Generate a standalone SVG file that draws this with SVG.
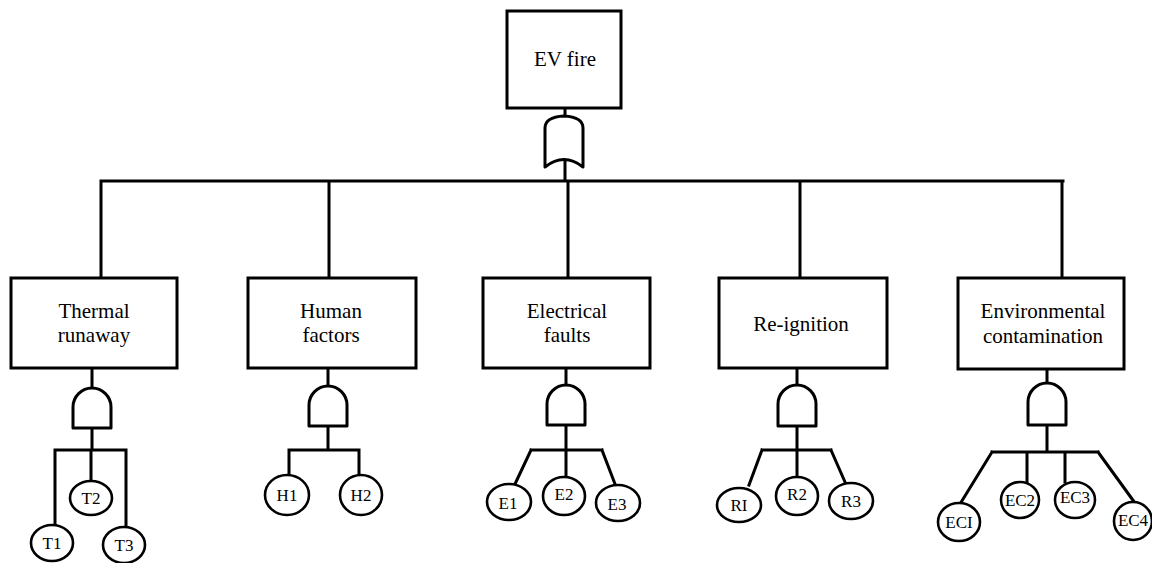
<svg xmlns="http://www.w3.org/2000/svg" width="1152" height="563" viewBox="0 0 1152 563">
<style>
.box{fill:#fff;stroke:#000;stroke-width:3}
.gate{fill:#fff;stroke:#000;stroke-width:3;stroke-linejoin:round}
.ev{fill:#fff;stroke:#000;stroke-width:2.6}
.ln{fill:none;stroke:#000;stroke-width:3;stroke-linecap:square}
.t{font-size:21px;fill:#000;text-anchor:middle}
.s{font-size:17px;fill:#000;text-anchor:middle}
</style>
<rect width="1152" height="563" fill="#fff"/>
<g id="connectors">
<path class="ln" d="M565,108V117M565,160V181M101,181H1063M101,181V278M329,181V278M568,181V278M800,181V278M1062,181V278"/>
<path class="ln" d="M92,368V388M92,428V450M55,450H126M55,450V525M91,450V482M126,450V527"/>
<path class="ln" d="M328,368V386M328,426V450M289,450H359M289,450V475M359,450V475"/>
<path class="ln" d="M566,368V385M566,425V450M531,450H602M531,450L515,484M602,450L615,484M566,450V478"/>
<path class="ln" d="M797,368V385M797,426V450M762,450H831M762,450L749,485M831,450L845,482M797,450V478"/>
<path class="ln" d="M1047,369V383M1047,425V452M992,452H1098M992,452L960,504M1098,452L1135,503M1027,452V482M1065,452V482"/>
</g>
<g font-family="'Liberation Serif', 'DejaVu Serif', serif">
<g id="ev-fire"><rect class="box" x="507" y="11" width="114" height="97"/><text class="t" x="565" y="66">EV fire</text></g>
<g id="or-gate"><path class="gate" d="M545,167L545,128Q545,117 564,116Q583,117 583,128L583,167Q564,152 545,167Z"/></g>
<g id="thermal"><rect class="box" x="11" y="278" width="166" height="90"/><text class="t" x="94" y="318">Thermal</text><text class="t" x="94" y="342">runaway</text></g>
<g id="human"><rect class="box" x="248" y="278" width="168" height="90"/><text class="t" x="331" y="318">Human</text><text class="t" x="331" y="342">factors</text></g>
<g id="electrical"><rect class="box" x="483" y="278" width="167" height="90"/><text class="t" x="567" y="318">Electrical</text><text class="t" x="567" y="342">faults</text></g>
<g id="reignition"><rect class="box" x="719" y="278" width="168" height="90"/><text class="t" x="801" y="331">Re-ignition</text></g>
<g id="environmental"><rect class="box" x="958" y="278" width="166" height="91"/><text class="t" x="1043" y="318">Environmental</text><text class="t" x="1043" y="343">contamination</text></g>
<g id="and-thermal"><path class="gate" d="M73,428V407A19,19 0 0 1 111,407V428Z"/></g>
<g id="and-human"><path class="gate" d="M309,426V405A19,19 0 0 1 347,405V426Z"/></g>
<g id="and-electrical"><path class="gate" d="M547,425V404A19,19 0 0 1 585,404V425Z"/></g>
<g id="and-reignition"><path class="gate" d="M778,426V404A19,19 0 0 1 816,404V426Z"/></g>
<g id="and-environmental"><path class="gate" d="M1028,425V402A19,19 0 0 1 1066,402V425Z"/></g>
<g id="T1"><ellipse class="ev" cx="52" cy="543" rx="21" ry="18"/><text class="s" x="52" y="549">T1</text></g>
<g id="T2"><ellipse class="ev" cx="91" cy="498" rx="21" ry="17"/><text class="s" x="91" y="504">T2</text></g>
<g id="T3"><ellipse class="ev" cx="124" cy="545" rx="21" ry="18"/><text class="s" x="124" y="551">T3</text></g>
<g id="H1"><ellipse class="ev" cx="287" cy="495" rx="22" ry="20"/><text class="s" x="287" y="501">H1</text></g>
<g id="H2"><ellipse class="ev" cx="361" cy="495" rx="21" ry="20"/><text class="s" x="361" y="501">H2</text></g>
<g id="E1"><ellipse class="ev" cx="509" cy="502" rx="22" ry="18"/><text class="s" x="508" y="509">E1</text></g>
<g id="E2"><ellipse class="ev" cx="564" cy="496" rx="21" ry="19"/><text class="s" x="564" y="500">E2</text></g>
<g id="E3"><ellipse class="ev" cx="618" cy="503" rx="22" ry="18"/><text class="s" x="617" y="510">E3</text></g>
<g id="R1"><ellipse class="ev" cx="739" cy="505" rx="22" ry="17"/><text class="s" x="739" y="511">RI</text></g>
<g id="R2"><ellipse class="ev" cx="797" cy="496" rx="21" ry="19"/><text class="s" x="797" y="500">R2</text></g>
<g id="R3"><ellipse class="ev" cx="851" cy="501" rx="22" ry="18"/><text class="s" x="851" y="507">R3</text></g>
<g id="EC1"><ellipse class="ev" cx="959" cy="522" rx="21" ry="19"/><text class="s" x="959" y="528">ECI</text></g>
<g id="EC2"><ellipse class="ev" cx="1020" cy="500" rx="19" ry="18"/><text class="s" x="1020" y="506">EC2</text></g>
<g id="EC3"><ellipse class="ev" cx="1075" cy="500" rx="20" ry="18"/><text class="s" x="1075" y="503">EC3</text></g>
<g id="EC4"><ellipse class="ev" cx="1133" cy="521" rx="19" ry="19"/><text class="s" x="1133" y="526">EC4</text></g>
</g>
</svg>
